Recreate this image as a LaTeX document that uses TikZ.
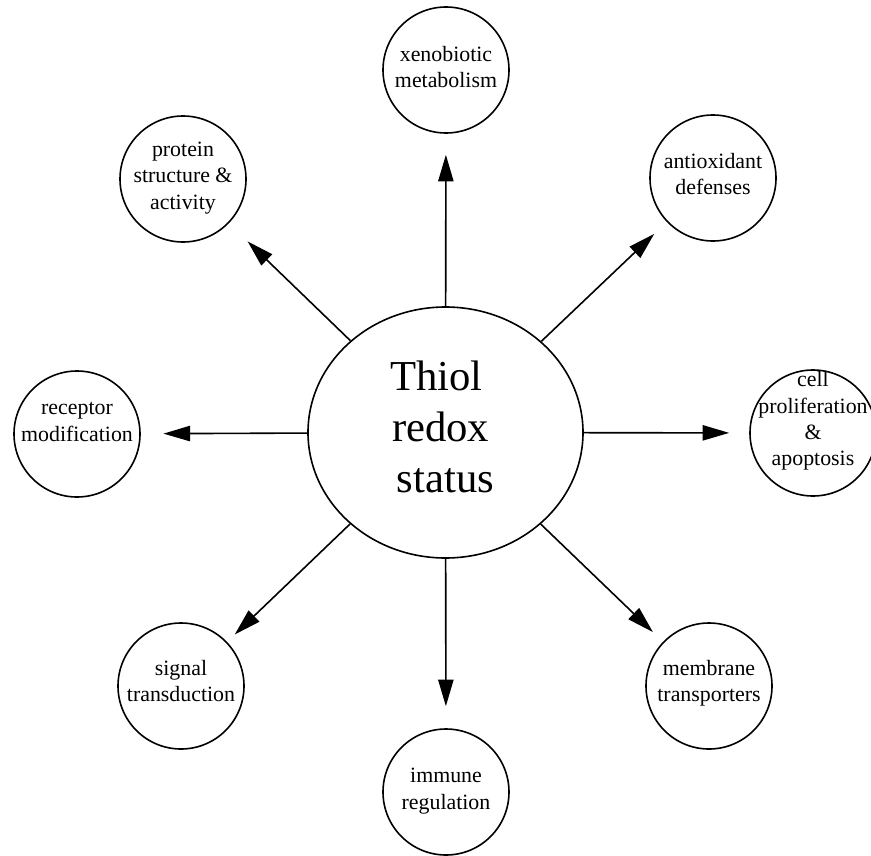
\documentclass[tikz,border=0pt]{standalone}
\usepackage{fontspec}
\setmainfont{Liberation Serif}
\usetikzlibrary{arrows.meta,shapes.geometric}

\tikzset{every picture/.style={line width=0.75pt}}
\tikzset{
  bubble/.style={draw, circle, line width=1.2pt, minimum size=94.5pt, inner sep=0pt},
  bubbletext/.style={align=center, font=\fontsize{16.4}{19.7}\selectfont, inner sep=0pt},
  hub/.style={draw, ellipse, line width=1.2pt, minimum width=206.25pt, minimum height=188.25pt, inner sep=0pt},
  hubtext/.style={align=left, font=\fontsize{32}{38.5}\selectfont, inner sep=0pt},
  spoke/.style={line width=1.2pt, -{Triangle[length=20pt,width=11.5pt]}}
}

\begin{document}
\begin{tikzpicture}[x=0.75pt,y=0.75pt,yscale=-1,xscale=1]
\useasboundingbox (0,0) rectangle (871,856);

%Shape: Ellipse [thiol]
\node [hub] (thiol) at (445.5,432.5) {};
% Text Node
\node [hubtext] (thiolText) at (442,427) {Thiol\\\hspace{1.5pt}redox\\\hspace{5pt}status};

%Shape: Circle [xeno]
\node [bubble] (xeno) at (446,70) {};
\node [bubbletext] (xenoText) at (446,67) {xenobiotic\\metabolism};
%Shape: Circle [anti]
\node [bubble] (anti) at (713,178) {};
\node [bubbletext] (antiText) at (713,174) {antioxidant\\defenses};
%Shape: Circle [cell]
\node [bubble] (cell) at (813,433) {};
\node [bubbletext] (cellText) at (813,421) {cell\\proliferation\\\&\\apoptosis};
%Shape: Circle [memb]
\node [bubble] (memb) at (709,686) {};
\node [bubbletext] (membText) at (709,683) {membrane\\transporters};
%Shape: Circle [immu]
\node [bubble] (immu) at (446,792) {};
\node [bubbletext] (immuText) at (446,791) {immune\\regulation};
%Shape: Circle [sign]
\node [bubble] (sign) at (181,686) {};
\node [bubbletext] (signText) at (181,681) {signal\\transduction};
%Shape: Circle [rece]
\node [bubble] (rece) at (77,434) {};
\node [bubbletext] (receText) at (77,422) {receptor\\modification};
%Shape: Circle [prot]
\node [bubble] (prot) at (183,179) {};
\node [bubbletext] (protText) at (183,178) {protein\\structure \&\\activity};

%Straight Lines: spokes
\draw [spoke, shorten >=15.75pt] (thiol) -- (xeno);
\draw [spoke, shorten >=13pt] (thiol) -- (anti);
\draw [spoke, shorten >=15pt] (thiol) -- (cell);
\draw [spoke, shorten >=10.5pt] (thiol) -- (memb);
\draw [spoke, shorten >=16.5pt] (thiol) -- (immu);
\draw [spoke, shorten >=8pt] (thiol) -- (sign);
\draw [spoke, shorten >=17pt] (thiol) -- (rece);
\draw [spoke, shorten >=19.5pt] (thiol) -- (prot);

\end{tikzpicture}
\end{document}
